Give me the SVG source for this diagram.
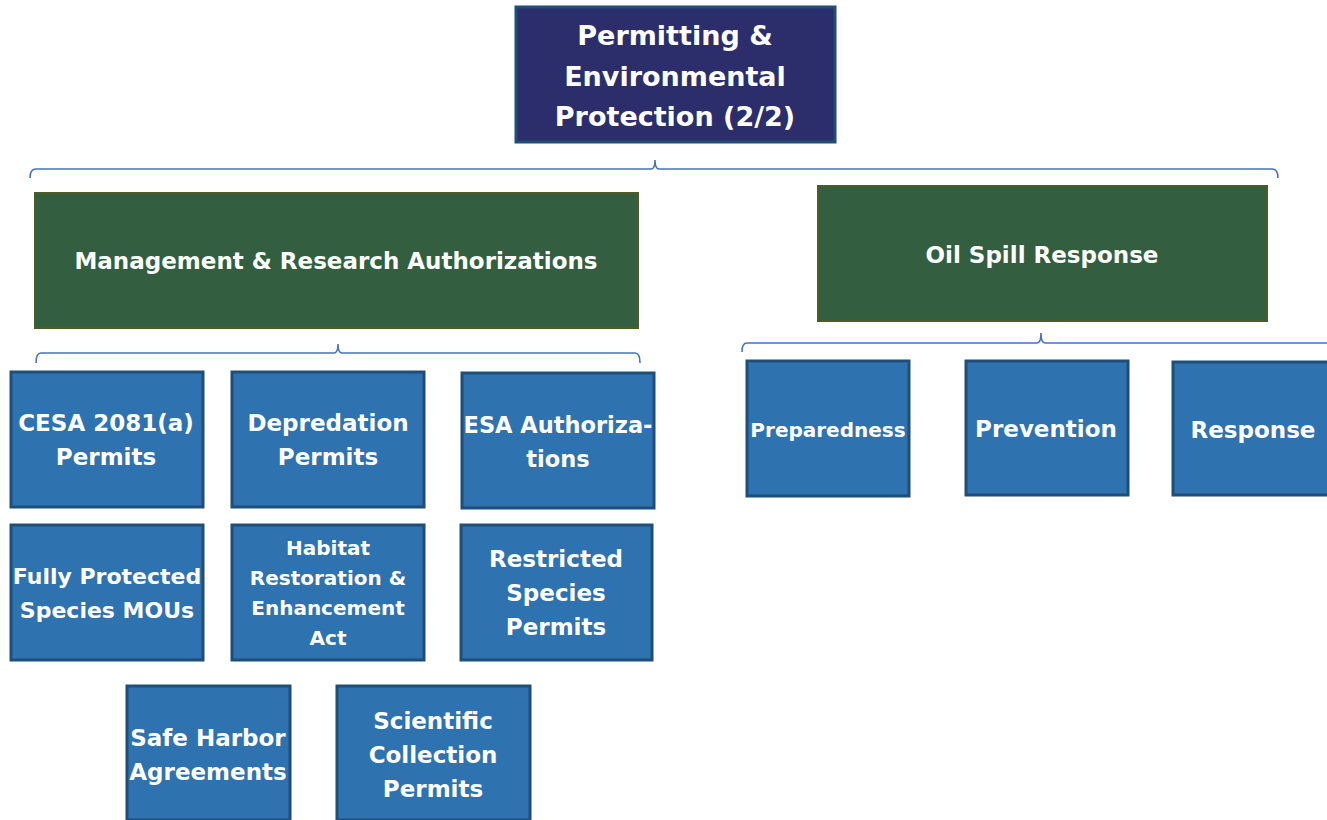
<svg xmlns="http://www.w3.org/2000/svg" width="1327" height="820" viewBox="0 0 1327 820">
<style>
.t{font-family:"Century Gothic","DejaVu Sans","Noto Sans",sans-serif;font-weight:bold;fill:#ffffff;text-anchor:middle;}
.top{fill:#2b2e6b;stroke:#1f4e79;stroke-width:3;}
.grn{fill:#335e3f;stroke:#4a5b2c;stroke-width:2;}
.blu{fill:#2e72b0;stroke:#1f4e79;stroke-width:3;}
.br{fill:none;stroke:#4472c4;stroke-width:1.6;}
</style>
<rect width="1327" height="820" fill="#ffffff"/>
<g id="connectors">
<path class="br" d="M30,178 Q30,169 36,169 L651,169 Q655,169 655,160 Q655,169 659,169 L1272,169 Q1278,169 1278,178"/>
<path class="br" d="M36,363 Q36,353 41,353 L334,353 Q338,353 338,344 Q338,353 342,353 L635,353 Q640,353 640,363"/>
<path class="br" d="M742,352 Q742,343 747,343 L1037,343 Q1041,343 1041,333 Q1041,343 1045,343 L1327,343"/>
</g>
<g id="n-root"><rect class="top" x="516" y="7" width="319" height="135"/>
<text class="t" font-size="27" x="675" y="45">Permitting &amp;</text>
<text class="t" font-size="27" x="675" y="86">Environmental</text>
<text class="t" font-size="27" x="675" y="126">Protection (2/2)</text></g>
<g id="n-mra"><rect class="grn" x="35" y="193" width="603" height="135"/>
<text class="t" font-size="23" x="336" y="269">Management &amp; Research Authorizations</text></g>
<g id="n-osr"><rect class="grn" x="818" y="186" width="449" height="135"/>
<text class="t" font-size="23" x="1042" y="263">Oil Spill Response</text></g>
<g id="n-cesa"><rect class="blu" x="11" y="372" width="192" height="135"/>
<text class="t" font-size="23" x="106" y="431">CESA 2081(a)</text>
<text class="t" font-size="23" x="106" y="465">Permits</text></g>
<g id="n-dep"><rect class="blu" x="232" y="372" width="192" height="135"/>
<text class="t" font-size="23" x="328" y="431">Depredation</text>
<text class="t" font-size="23" x="328" y="465">Permits</text></g>
<g id="n-esa"><rect class="blu" x="462" y="373" width="192" height="135"/>
<text class="t" font-size="22.5" x="558" y="433">ESA Authoriza-</text>
<text class="t" font-size="22.5" x="558" y="467">tions</text></g>
<g id="n-fp"><rect class="blu" x="11" y="525" width="192" height="135"/>
<text class="t" font-size="22" x="107" y="584">Fully Protected</text>
<text class="t" font-size="22" x="107" y="618">Species MOUs</text></g>
<g id="n-hab"><rect class="blu" x="232" y="525" width="192" height="135"/>
<text class="t" font-size="20" x="328" y="555">Habitat</text>
<text class="t" font-size="20" x="328" y="585">Restoration &amp;</text>
<text class="t" font-size="20" x="328" y="615">Enhancement</text>
<text class="t" font-size="20" x="328" y="645">Act</text></g>
<g id="n-rsp"><rect class="blu" x="461" y="525" width="191" height="135"/>
<text class="t" font-size="23" x="556" y="567">Restricted</text>
<text class="t" font-size="23" x="556" y="601">Species</text>
<text class="t" font-size="23" x="556" y="635">Permits</text></g>
<g id="n-sha"><rect class="blu" x="127" y="686" width="163" height="134"/>
<text class="t" font-size="23" x="208" y="746">Safe Harbor</text>
<text class="t" font-size="23" x="208" y="780">Agreements</text></g>
<g id="n-scp"><rect class="blu" x="337" y="686" width="193" height="134"/>
<text class="t" font-size="23" x="433" y="729">Scientific</text>
<text class="t" font-size="23" x="433" y="763">Collection</text>
<text class="t" font-size="23" x="433" y="797">Permits</text></g>
<g id="n-prep"><rect class="blu" x="747" y="361" width="162" height="135"/>
<text class="t" font-size="20" x="828" y="437">Preparedness</text></g>
<g id="n-prev"><rect class="blu" x="966" y="361" width="162" height="134"/>
<text class="t" font-size="23" x="1046" y="437">Prevention</text></g>
<g id="n-resp"><rect class="blu" x="1173" y="362" width="160" height="133"/>
<text class="t" font-size="23" x="1253" y="438">Response</text></g>
</svg>
